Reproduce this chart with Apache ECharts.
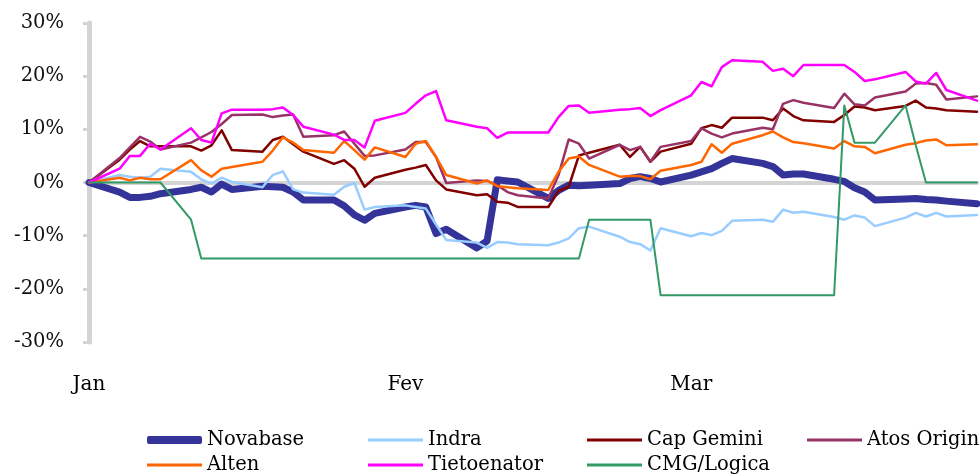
<!DOCTYPE html>
<html>
<head>
<meta charset="utf-8">
<script src="https://cdn.jsdelivr.net/npm/echarts@6/dist/echarts.min.js"></script>
<style>
  html, body { margin: 0; padding: 0; background: #fff; }
  #chart { width: 980px; height: 475px; }
</style>
</head>
<body>
<div id="chart"></div>
<script>
// calendar days from the start (day 0) up to day 87, month names shown on the 1st
const monthNames = ['Jan', 'Fev', 'Mar']
const monthLengths = [31, 28, 31]
const tradingDays = [0, 3, 4, 5, 6, 7, 10, 11, 12, 13, 14, 17, 18, 19, 20, 21, 24, 25, 26, 27, 28,
  31, 32, 33, 34, 35, 38, 39, 40, 41, 42, 45, 46, 47, 48, 49, 52, 53, 54, 55, 56,
  59, 60, 61, 62, 63, 66, 67, 68, 69, 70, 73, 74, 75, 76, 77, 80, 81, 82, 83, 84, 87]

// values in %, one per trading day
const novabase = [0, -1.8, -2.8, -2.8, -2.6, -2.1, -1.3, -0.9, -1.8, -0.3, -1.3, -0.7, -0.8, -0.9, -1.8, -3.3,
  -3.3, -4.4, -6.1, -7.1, -5.8, -4.6, -4.3, -4.6, -9.6, -8.8, -12.3, -11.0, 0.5, 0.3, 0.1,
  -3.0, -1.5, -0.5, -0.6, -0.5, -0.2, 0.75, 1.1, 0.75, 0.1, 1.4, 2.0, 2.6, 3.6, 4.5,
  3.6, 3.0, 1.4, 1.6, 1.6, 0.6, 0.2, -1.0, -1.8, -3.3, -3.1, -3.0, -3.2, -3.3, -3.5, -4.0]
const indra = [0, 1.4, 1.1, 0.9, 1.1, 2.6, 2.0, 0.6, -0.2, 0.9, 0.1, -0.9, 1.4, 2.1, -1.3, -1.9,
  -2.3, -0.8, -0.1, -5.1, -4.6, -4.3, -4.6, -4.9, -7.9, -10.8, -11.3, -12.3, -11.2, -11.3, -11.6,
  -11.8, -11.3, -10.5, -8.6, -8.3, -10.2, -11.2, -11.6, -12.8, -8.6, -10.1, -9.5, -9.9, -9.1, -7.2,
  -7.0, -7.4, -5.1, -5.7, -5.5, -6.5, -7.0, -6.2, -6.6, -8.2, -6.6, -5.7, -6.4, -5.7, -6.4, -6.1]
const capGemini = [0, 4.3, 6.2, 7.8, 6.8, 6.8, 6.8, 6.0, 7.0, 9.8, 6.1, 5.8, 8.0, 8.6, 7.2, 5.8,
  3.5, 4.2, 2.6, -0.8, 0.9, 2.4, 2.8, 3.3, 0.4, -1.3, -2.4, -2.2, -3.6, -3.8, -4.6,
  -4.6, -1.6, -0.8, 5.1, 5.6, 7.1, 4.8, 6.7, 3.9, 5.8, 7.3, 10.2, 10.8, 10.3, 12.2,
  12.2, 11.7, 13.9, 12.5, 11.7, 11.4, 12.7, 14.3, 14.1, 13.6, 14.4, 15.4, 14.1, 13.9, 13.6, 13.3]
const atosOrigin = [0, 4.6, 6.6, 8.6, 7.7, 6.2, 7.5, 8.5, 9.5, 11.0, 12.7, 12.8, 12.3, 12.6, 12.8, 8.6,
  8.9, 9.6, 7.3, 5.0, 5.1, 6.2, 7.6, 7.6, 4.8, -0.1, 0.4, 0.3, -0.5, -1.8, -2.4,
  -3.0, 1.4, 8.1, 7.3, 4.5, 7.1, 6.1, 6.7, 3.9, 6.7, 7.8, 10.2, 9.2, 8.5, 9.2,
  10.3, 10.0, 14.8, 15.5, 15.0, 14.0, 16.7, 14.7, 14.5, 16.0, 17.1, 18.6, 18.7, 18.4, 15.6, 16.2]
const alten = [0, 0.9, 0.4, 0.9, 0.6, 0.6, 4.2, 2.3, 1.1, 2.6, 2.9, 3.9, 6.0, 8.5, 7.5, 6.1,
  5.6, 7.8, 6.1, 4.3, 6.6, 4.8, 7.3, 7.8, 4.8, 1.4, -0.2, 0.4, -0.7, -0.9, -1.1,
  -1.4, 2.0, 4.5, 4.9, 3.3, 1.1, 1.2, 1.2, 0.6, 2.2, 3.3, 3.9, 7.2, 5.6, 7.3,
  8.9, 9.6, 8.5, 7.6, 7.4, 6.4, 7.8, 6.8, 6.7, 5.5, 7.1, 7.4, 7.9, 8.1, 7.0, 7.2]
const tietoenator = [0, 2.6, 5.0, 5.0, 7.3, 6.2, 10.2, 8.0, 7.5, 13.0, 13.7, 13.7, 13.8, 14.1, 12.7, 10.5,
  9.0, 8.0, 8.0, 6.6, 11.6, 13.1, 14.8, 16.4, 17.2, 11.7, 10.5, 10.2, 8.4, 9.4, 9.4,
  9.4, 12.3, 14.4, 14.5, 13.1, 13.7, 13.8, 14.0, 12.5, 13.6, 16.4, 18.9, 18.1, 21.7, 23.0,
  22.7, 21.0, 21.4, 20.0, 22.1, 22.1, 22.1, 20.8, 19.1, 19.4, 20.8, 19.0, 18.6, 20.6, 17.4, 15.4]
const cmgLogica = [0, 0, 0, 0, 0, 0, -7.0, -14.3, -14.3, -14.3, -14.3, -14.3, -14.3, -14.3, -14.3, -14.3,
  -14.3, -14.3, -14.3, -14.3, -14.3, -14.3, -14.3, -14.3, -14.3, -14.3, -14.3, -14.3, -14.3, -14.3, -14.3,
  -14.3, -14.3, -14.3, -14.3, -7.0, -7.0, -7.0, -7.0, -7.0, -21.2, -21.2, -21.2, -21.2, -21.2, -21.2,
  -21.2, -21.2, -21.2, -21.2, -21.2, -21.2, 14.5, 7.5, 7.5, 7.5, 14.5, 7.0, 0, 0, 0, 0]

const yTicks = [-30, -20, -10, 0, 10, 20, 30]

// category labels: day/month, month name is printed on the 1st
let categories = []
monthLengths.forEach((len, m) => {
  for (let d = 1; d <= len; d++) categories.push(d + '/' + (m + 1))
})
categories = categories.slice(0, 88)

function fullDays(values) {
  const out = new Array(categories.length).fill(null)
  tradingDays.forEach((day, i) => { out[day] = values[i] })
  return out
}

const font = 'DejaVu Serif'
const seriesDefs = [
  { name: 'Novabase', data: novabase, color: '#333399', width: 7 },
  { name: 'Indra', data: indra, color: '#99ccff', width: 2.5 },
  { name: 'Cap Gemini', data: capGemini, color: '#800000', width: 2.5 },
  { name: 'Atos Origin', data: atosOrigin, color: '#993366', width: 2.5 },
  { name: 'Alten', data: alten, color: '#ff6600', width: 2.5 },
  { name: 'Tietoenator', data: tietoenator, color: '#ff00ff', width: 2.5 },
  { name: 'CMG/Logica', data: cmgLogica, color: '#339966', width: 2 },
]
// legend slots: column left edges, row centres
const legendCols = [147, 368, 587, 807, 147, 368, 587]
const legendRows = [440, 440, 440, 440, 465, 465, 465]

const legends = seriesDefs.map((s, i) => {
  const thick = s.width > 4
  return {
    left: legendCols[i],
    top: legendRows[i] - 12,
    padding: 0,
    data: [{ name: s.name, icon: thick ? 'roundRect' : 'rect' }],
    itemWidth: 55,
    itemHeight: thick ? 8 : 3,
    itemGap: 0,
    selectedMode: false,
    itemStyle: { color: s.color },
    textStyle: { fontFamily: font, fontSize: 19.5, color: '#000', lineHeight: 24 },
  }
})

const option = {
  animation: false,
  grid: { left: 89, top: 23, width: 896, height: 319, containLabel: false },
  legend: legends,
  xAxis: [
    {
      type: 'category',
      data: categories,
      boundaryGap: false,
      position: 'bottom',
      axisLine: { show: false, onZero: false },
      axisTick: { show: false },
      axisLabel: {
        interval: 0,
        margin: 33,
        fontFamily: font,
        fontSize: 20,
        color: '#000',
        formatter: function (value) {
          const parts = value.split('/')
          return parts[0] === '1' ? monthNames[+parts[1] - 1] : ''
        },
      },
      splitLine: { show: false },
    },
    {
      type: 'category',
      data: categories,
      boundaryGap: false,
      position: 'top',
      axisLine: { show: true, onZero: true, lineStyle: { color: '#d4d4d4', width: 4 } },
      axisTick: { show: false },
      axisLabel: { show: false },
      splitLine: { show: false },
    },
  ],
  yAxis: {
    type: 'value',
    min: -30,
    max: 30,
    interval: 10,
    axisLine: { show: true, lineStyle: { color: '#d4d4d4', width: 5 } },
    axisTick: { show: true, length: 6, lineStyle: { color: '#d4d4d4', width: 3 } },
    axisLabel: {
      margin: 25,
      fontFamily: font,
      fontSize: 19.5,
      color: '#111',
      formatter: function (v) { return yTicks.indexOf(v) >= 0 ? v + '%' : '' },
    },
    splitLine: { show: false },
  },
  series: seriesDefs.map((s) => ({
    name: s.name,
    type: 'line',
    data: fullDays(s.data),
    connectNulls: true,
    symbol: 'none',
    smooth: false,
    color: s.color,
    lineStyle: { color: s.color, width: s.width, cap: 'round', join: 'round' },
    emphasis: { disabled: true },
  })),
}

const chart = echarts.init(document.getElementById('chart'))
chart.setOption(option)
</script>
</body>
</html>
